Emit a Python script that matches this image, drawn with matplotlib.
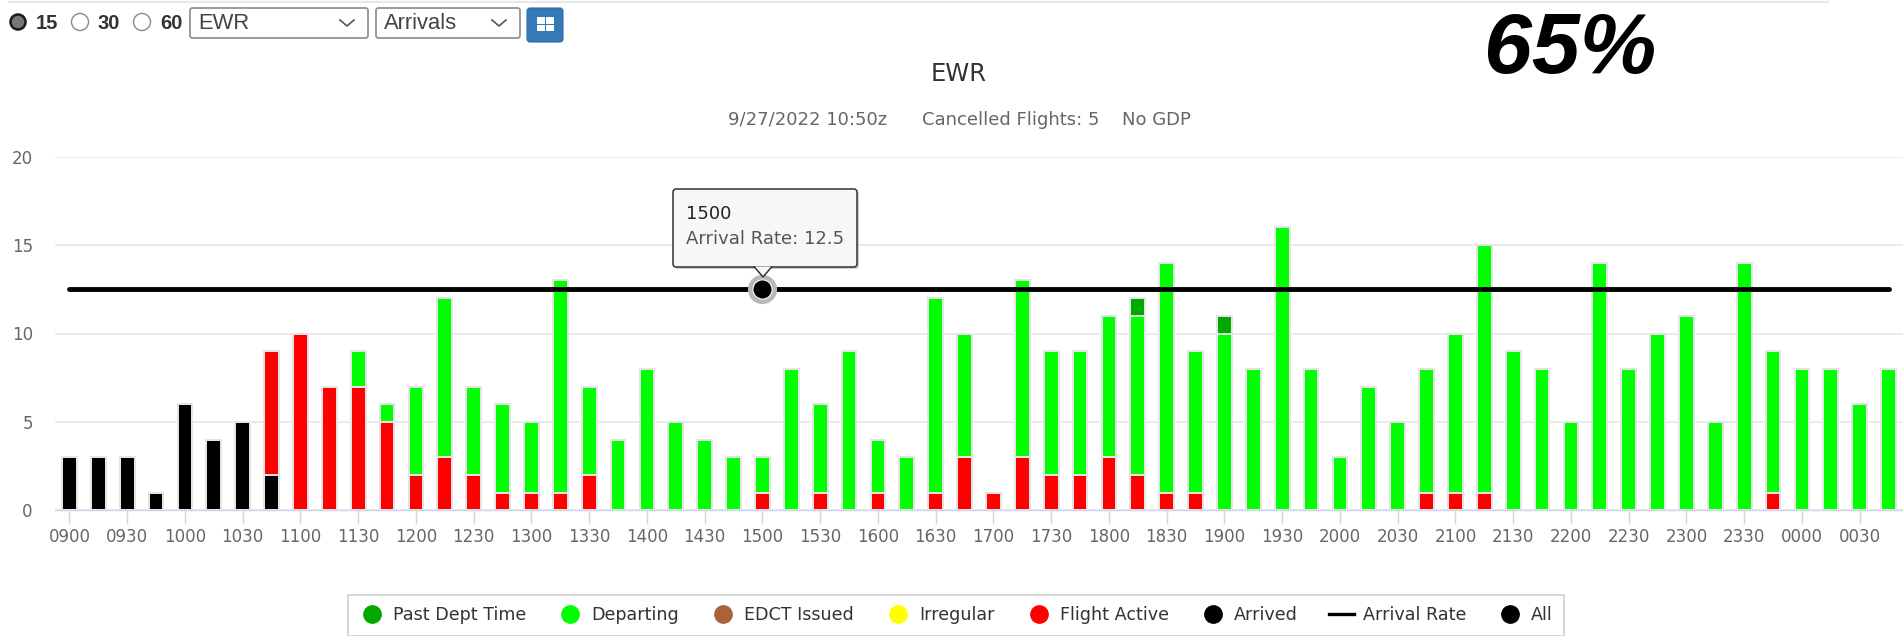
import numpy as np
import matplotlib
matplotlib.use("Agg")
import matplotlib.pyplot as plt
from matplotlib.lines import Line2D
from matplotlib.patches import FancyBboxPatch, Polygon, Circle, Rectangle
from matplotlib.transforms import Affine2D

categories = ["0900","0915","0930","0945","1000","1015","1030","1045","1100","1115","1130","1145",
              "1200","1215","1230","1245","1300","1315","1330","1345","1400","1415","1430","1445",
              "1500","1515","1530","1545","1600","1615","1630","1645","1700","1715","1730","1745",
              "1800","1815","1830","1845","1900","1915","1930","1945","2000","2015","2030","2045",
              "2100","2115","2130","2145","2200","2215","2230","2245","2300","2315","2330","2345",
              "0000","0015","0030","0045"]
arrived = [3,3,3,1,6,4,5,2,0,0,0,0, 0,0,0,0,0,0,0,0,0,0,0,0,
           0,0,0,0,0,0,0,0,0,0,0,0, 0,0,0,0,0,0,0,0,0,0,0,0,
           0,0,0,0,0,0,0,0,0,0,0,0, 0,0,0,0]
active = [0,0,0,0,0,0,0,7,10,7,7,5, 2,3,2,1,1,1,2,0,0,0,0,0,
          1,0,1,0,1,0,1,3,1,3,2,2, 3,2,1,1,0,0,0,0,0,0,0,1,
          1,1,0,0,0,0,0,0,0,0,0,1, 0,0,0,0]
departing = [0,0,0,0,0,0,0,0,0,0,2,1, 5,9,5,5,4,12,5,4,8,5,4,3,
             2,8,5,9,3,3,11,7,0,10,7,7, 8,9,13,8,10,8,16,8,3,7,5,7,
             9,14,9,8,5,14,8,10,11,5,14,8, 8,8,6,8]
past_dept = [0]*37 + [1,0,0,1] + [0]*23
arrival_rate = [12.5]*64
y_ticks = [0,5,10,15,20]
legend_labels = ["Past Dept Time","Departing","EDCT Issued","Irregular","Flight Active","Arrived","Arrival Rate","All"]
legend_colors = ["#00a800","#00ff00","#a9633c","#ffff00","#ff0000","#000000","#000000","#000000"]

W, H = 1903, 636
UI = "Liberation Sans"
CH = "DejaVu Sans"
fig = plt.figure(figsize=(W/100, H/100), dpi=100, facecolor="white")
px = Affine2D().scale(1, -1).translate(0, H)   # pixel coordinates for page chrome

ax = fig.add_axes([55/W, 1-510.3/H, (W-55)/W, (510.3-156.7)/H])
ax.patch.set_visible(False)
x = np.arange(len(categories))
ax.set_xlim(-0.5, 63.5)
ax.set_ylim(0, 20)
for s in ("top","right","left"):
    ax.spines[s].set_visible(False)
ax.spines["bottom"].set_color("#ccd6eb")
ax.spines["bottom"].set_linewidth(1)
ax.set_yticks(y_ticks)
ax.yaxis.grid(True, color="#e6e6e6", lw=1.1)
ax.set_axisbelow(True)
ax.tick_params(axis="y", length=0, pad=16, labelsize=12, labelcolor="#666666")
ax.set_xticks(x[::2])
ax.set_xticklabels(categories[::2], family=CH)
ax.tick_params(axis="x", length=10, width=1, color="#ccd6eb", pad=3, labelsize=12, labelcolor="#666666")
for t in ax.get_yticklabels():
    t.set_family(CH)

bottom = np.zeros(len(x))
for vals, col in ((arrived,"#000000"),(active,"#ff0000"),(departing,"#00ff00"),(past_dept,"#00a800")):
    v = np.array(vals, float)
    m = v > 0
    ax.bar(x[m], v[m], bottom=bottom[m], width=0.51, color=col, edgecolor="#e4e4e4", linewidth=1.44, zorder=3)
    bottom += v

ax.plot(x, arrival_rate, color="black", lw=3.5, solid_capstyle="round", zorder=5)
hi = categories.index("1500")
ax.plot([x[hi]],[arrival_rate[hi]], "o", ms=21, color="#b8b8b8", mew=0, zorder=6)
ax.plot([x[hi]],[arrival_rate[hi]], "o", ms=14.5, color="white", mew=0, zorder=7)
ax.plot([x[hi]],[arrival_rate[hi]], "o", ms=13, color="black", mew=0, zorder=8)

# tooltip
shadow = FancyBboxPatch((675,191),184,78, boxstyle="round,pad=0,rounding_size=3", transform=px,
                        fc="#000000", ec="none", alpha=0.18, zorder=9)
box = FancyBboxPatch((673,189),184,78, boxstyle="round,pad=0,rounding_size=3", transform=px,
                     fc="#f7f7f7", ec="#333333", lw=1.1, zorder=10)
fig.add_artist(shadow); fig.add_artist(box)
fig.add_artist(Polygon([(754,266.5),(763,277),(772,266.5)], closed=False, transform=px, fc="#f7f7f7", ec="#333333", lw=1.1, zorder=11))
fig.text(686/W, 1-214/H, "1500", family=CH, fontsize=13, color="#222222", va="center", zorder=12)
fig.text(686/W, 1-239/H, "Arrival Rate: 12.5", family=CH, fontsize=13, color="#555555", va="center", zorder=12)

# titles
fig.text(959/W, 1-74/H, "EWR", family=CH, fontsize=17.5, color="#333333", ha="center", va="center")
for tx, s in ((728,"9/27/2022 10:50z"),(922,"Cancelled Flights: 5"),(1122,"No GDP")):
    fig.text(tx/W, 1-120/H, s, family=CH, fontsize=13, color="#666666", ha="left", va="center")

# big percentage
fig.text(1484/W, 1-73/H, "65%", family=UI, weight="bold", style="italic", fontsize=62, color="black", ha="left", va="baseline")

# page chrome
fig.add_artist(Line2D([9,1828],[2,2], transform=px, color="#e8e8e8", lw=1.6))
fig.add_artist(Circle((18,22), 7.5, transform=px, fc="#777777", ec="#1a1a1a", lw=1.8))
for cx in (80,142):
    fig.add_artist(Circle((cx,22), 8.5, transform=px, fc="white", ec="#8a8a8a", lw=1))
for tx, s in ((36,"15"),(98,"30"),(160,"60")):
    fig.text(tx/W, 1-23.5/H, s, family=UI, weight="bold", fontsize=14.5, color="#333333", va="center")
for (x0,x1,label,cv) in ((190,368,"EWR",347),(376,520,"Arrivals",499)):
    fig.add_artist(FancyBboxPatch((x0,8),x1-x0,30, boxstyle="round,pad=0,rounding_size=2.5", transform=px, fc="white", ec="#8a8a8a", lw=1.2))
    fig.text((x0+8)/W, 1-23.5/H, label, family=UI, fontsize=15.8, color="#444444", va="center")
    fig.add_artist(Line2D([cv-7,cv,cv+7],[20,26,20], transform=px, color="#555555", lw=1.2))
fig.add_artist(FancyBboxPatch((527,8),36,34, boxstyle="round,pad=0,rounding_size=3", transform=px, fc="#337ab7", ec="#2e6da4", lw=0.8))
for ix in (536.5,546):
    for iy in (17,24.5):
        fig.add_artist(Rectangle((ix,iy),8,6.5, transform=px, fc="white", ec="none"))

# legend
handles = []
for lab, col in zip(legend_labels, legend_colors):
    if lab == "Arrival Rate":
        handles.append(Line2D([0],[0], color=col, lw=2.4, label=lab))
    else:
        handles.append(Line2D([0],[0], color="none", marker="o", ms=13.5, mfc=col, mec="none", label=lab))
fs = 12.6
fpx = fs*100/72
leg = fig.legend(handles=handles, ncol=8, loc="upper left", bbox_to_anchor=(348/W, 1-595/H), borderaxespad=0,
                 prop={"family":CH,"size":fs}, labelcolor="#333333",
                 handlelength=25/fpx, handletextpad=8.5/fpx, columnspacing=31.6/fpx,
                 borderpad=11.5/fpx, frameon=True, fancybox=False, edgecolor="#cccccc", framealpha=1)
leg.get_frame().set_linewidth(1.1)

fig.savefig("out.png", dpi=100)
